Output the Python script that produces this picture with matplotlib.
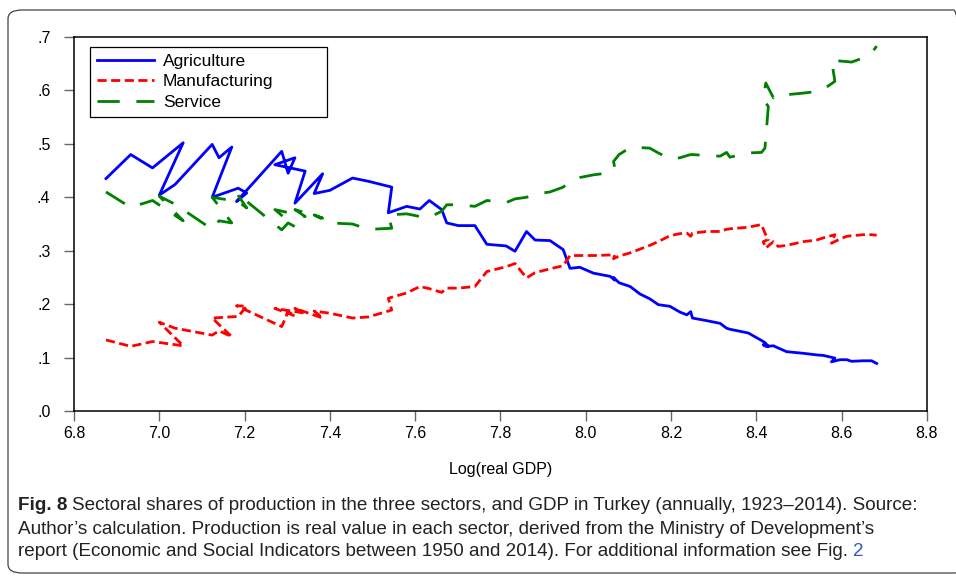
import matplotlib
matplotlib.use("Agg")
import matplotlib.pyplot as plt
from matplotlib.patches import FancyBboxPatch

# Log(real GDP), year by year, and sector shares
log_gdp = [6.875, 6.933, 6.984, 7.056, 7.000, 7.037, 7.124, 7.140, 7.170, 7.124,
           7.185, 7.205, 7.181, 7.287, 7.302, 7.318, 7.271, 7.342, 7.318, 7.383,
           7.363, 7.400, 7.453, 7.490, 7.545, 7.537, 7.580, 7.611, 7.633, 7.662,
           7.674, 7.701, 7.740, 7.768, 7.813, 7.834, 7.861, 7.881, 7.916, 7.947,
           7.963, 7.986, 8.018, 8.057, 8.068, 8.065, 8.078, 8.104, 8.127, 8.150,
           8.170, 8.197, 8.221, 8.237, 8.246, 8.250, 8.284, 8.315, 8.330, 8.338,
           8.381, 8.412, 8.420, 8.428, 8.416, 8.422, 8.440, 8.451, 8.471, 8.510,
           8.541, 8.557, 8.584, 8.576, 8.596, 8.612, 8.623, 8.651, 8.670, 8.682]

agriculture = [0.435, 0.480, 0.455, 0.502, 0.404, 0.424, 0.499, 0.474, 0.494, 0.400,
               0.417, 0.408, 0.392, 0.486, 0.445, 0.474, 0.461, 0.449, 0.389, 0.444,
               0.407, 0.413, 0.436, 0.430, 0.419, 0.371, 0.383, 0.378, 0.394, 0.377,
               0.352, 0.347, 0.347, 0.312, 0.309, 0.299, 0.336, 0.320, 0.319, 0.302,
               0.267, 0.269, 0.258, 0.252, 0.245, 0.250, 0.240, 0.233, 0.219, 0.210,
               0.199, 0.196, 0.185, 0.180, 0.186, 0.174, 0.169, 0.164, 0.155, 0.153,
               0.146, 0.132, 0.128, 0.121, 0.124, 0.121, 0.122, 0.118, 0.111, 0.108,
               0.105, 0.104, 0.099, 0.092, 0.096, 0.096, 0.093, 0.094, 0.094, 0.089]

manufacturing = [0.133, 0.121, 0.130, 0.122, 0.166, 0.155, 0.142, 0.150, 0.139, 0.174,
                 0.177, 0.196, 0.197, 0.158, 0.186, 0.178, 0.192, 0.183, 0.192, 0.174,
                 0.187, 0.183, 0.174, 0.176, 0.189, 0.211, 0.221, 0.233, 0.229, 0.222,
                 0.230, 0.230, 0.233, 0.261, 0.270, 0.276, 0.249, 0.259, 0.266, 0.272,
                 0.291, 0.291, 0.291, 0.292, 0.292, 0.285, 0.290, 0.296, 0.303, 0.310,
                 0.317, 0.328, 0.332, 0.333, 0.327, 0.333, 0.336, 0.336, 0.340, 0.341,
                 0.344, 0.349, 0.333, 0.321, 0.317, 0.305, 0.317, 0.308, 0.310, 0.317,
                 0.320, 0.324, 0.330, 0.314, 0.322, 0.327, 0.328, 0.330, 0.330, 0.329]

service = [0.410, 0.381, 0.394, 0.356, 0.402, 0.387, 0.340, 0.356, 0.352, 0.400,
           0.392, 0.380, 0.408, 0.339, 0.352, 0.345, 0.377, 0.364, 0.377, 0.361,
           0.367, 0.352, 0.350, 0.340, 0.342, 0.367, 0.369, 0.364, 0.362, 0.374,
           0.386, 0.386, 0.383, 0.394, 0.390, 0.397, 0.400, 0.406, 0.410, 0.419,
           0.430, 0.437, 0.442, 0.446, 0.455, 0.467, 0.480, 0.493, 0.493, 0.492,
           0.483, 0.472, 0.474, 0.478, 0.480, 0.480, 0.478, 0.477, 0.484, 0.475,
           0.483, 0.484, 0.492, 0.570, 0.583, 0.614, 0.586, 0.592, 0.592, 0.595,
           0.598, 0.602, 0.617, 0.658, 0.655, 0.654, 0.653, 0.661, 0.670, 0.683]

x_ticks = [6.8, 7.0, 7.2, 7.4, 7.6, 7.8, 8.0, 8.2, 8.4, 8.6, 8.8]
y_ticks = [0.0, 0.1, 0.2, 0.3, 0.4, 0.5, 0.6, 0.7]
y_labels = [".0", ".1", ".2", ".3", ".4", ".5", ".6", ".7"]

plt.rcParams["font.family"] = ["Liberation Sans", "DejaVu Sans"]

fig = plt.figure(figsize=(9.56, 5.77), dpi=100)

# rounded frame around the whole figure
frame = FancyBboxPatch((8 / 956, 4 / 577), 960 / 956, 563 / 577,
                       boxstyle="round,pad=0,rounding_size=0.015",
                       transform=fig.transFigure, fill=False,
                       edgecolor="#444444", linewidth=0.9, clip_on=False)
fig.patches.append(frame)

ax = fig.add_axes([74 / 956, 1 - 411 / 577, 853 / 956, 374 / 577])

ax.plot(log_gdp, agriculture, color="#0000ff", lw=2.0, label="Agriculture")
ax.plot(log_gdp, manufacturing, color="#ff0000", lw=2.0,
        dashes=(3.3, 1.6), label="Manufacturing")
ax.plot(log_gdp, service, color="#008000", lw=2.0,
        dashes=(8.0, 6.0), label="Service")

ax.set_xlim(6.8, 8.8)
ax.set_ylim(0, 0.7)
ax.set_xticks(x_ticks)
ax.set_xticklabels([f"{v:.1f}" for v in x_ticks])
ax.set_yticks(y_ticks)
ax.set_yticklabels(y_labels)
ax.tick_params(axis="both", direction="out", length=7, width=1.0,
               color="#666666", labelsize=11.5, pad=4)
ax.tick_params(axis="y", pad=10)
for s in ax.spines.values():
    s.set_linewidth(1.1)

ax.set_xlabel("Log(real GDP)", fontsize=11.5, labelpad=15)

# legend box stretched to the width it has in the original
leg = ax.legend(loc="upper left",
                bbox_to_anchor=(16 / 853, 1 - 10 / 374, 237 / 853, 0.0),
                mode="expand", borderaxespad=0, fontsize=12.5, fancybox=False,
                framealpha=1, edgecolor="black", handlelength=3.3,
                handletextpad=0.5, borderpad=0.4, labelspacing=0.3)
leg.get_frame().set_linewidth(0.9)

cap = ["Liberation Sans", "DejaVu Sans"]
cap_size = 13.6
fig.text(18 / 956, 1 - 506 / 577, "Fig. 8", fontsize=cap_size, fontweight="bold",
         family=cap, va="center", color="#222222")
fig.text(72 / 956, 1 - 506 / 577,
         "Sectoral shares of production in the three sectors, and GDP in Turkey "
         "(annually, 1923\u20132014). Source:",
         fontsize=cap_size, family=cap, va="center", color="#222222")
fig.text(18 / 956, 1 - 530 / 577,
         "Author\u2019s calculation. Production is real value in each sector, "
         "derived from the Ministry of Development\u2019s",
         fontsize=cap_size, family=cap, va="center", color="#222222")
line3 = fig.text(18 / 956, 1 - 552 / 577,
                 "report (Economic and Social Indicators between 1950 and 2014). "
                 "For additional information see Fig. ",
                 fontsize=cap_size, family=cap, va="center", color="#222222")
fig.canvas.draw()
bb = line3.get_window_extent()
fig.text(bb.x1 / 956, 1 - 552 / 577, "2", fontsize=cap_size, family=cap,
         va="center", color="#3355cc")

fig.savefig("out.png", dpi=100)
